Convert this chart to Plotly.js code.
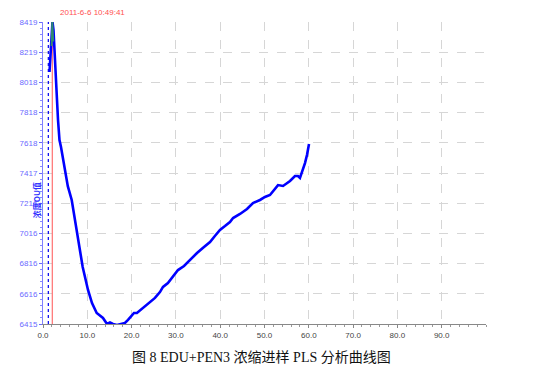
<!DOCTYPE html>
<html>
<head>
<meta charset="utf-8">
<script src="https://cdn.plot.ly/plotly-3.0.1.min.js"></script>
<style>
html,body{margin:0;padding:0;background:#fff;}
#chart{width:533px;height:377px;}
</style>
</head>
<body>
<div id="chart"></div>
<script>
// Main PLS curve (time, OU value)
const curveX = [1.47,1.69,1.92,2.14,2.37,2.71,2.93,3.16,3.39,3.72,4.06,4.74,5.6,6.48,7.67,8.96,10.16,11.06,12.12,12.87,13.54,14.45,15.12,15.8,16.7,17.6,18.5,19.19,20.09,20.54,21.2,22.57,24.15,25.28,26.4,27.09,28.2,29.35,30.47,31.83,33.18,34.76,36.34,37.7,38.8,39.95,41.08,42.2,42.9,44.47,46.05,47.4,48.98,50.1,51.24,52.14,53.05,54.18,55.08,55.76,56.88,57.56,58.01,58.69,59.14,59.59,60.05];
const curveY = [8087,8233,8386,8419,8366,8200,8067,7901,7769,7636,7590,7483,7330,7238,7019,6793,6641,6554,6488,6468,6455,6415,6425,6415,6408,6415,6422,6442,6475,6488,6488,6521,6561,6588,6627,6661,6687,6727,6773,6800,6840,6886,6926,6959,6999,7039,7065,7092,7118,7145,7178,7218,7238,7258,7271,7304,7337,7331,7351,7364,7397,7397,7384,7437,7483,7536,7610];
// Secondary (green) trace near the peak
const greenX = [1.95,2.1,2.3];
const greenY = [8260,8419,8290];
// Marker lines
const blueMarkerX = 1.2;
const redMarkerX = 2.1;
const markerLabel = "2011-6-6 10:49:41";
// Axes
const yTickVals = [6415,6615.4,6815.8,7016.2,7216.6,7417,7617.4,7817.8,8018.2,8218.6,8419];
const yTickText = ["6415","6616","6816","7016","7216","7417","7618","7818","8018","8219","8419"];
const xTickVals = [0,10,20,30,40,50,60,70,80,90];
const xTickText = ["0.0","10.0","20.0","30.0","40.0","50.0","60.0","70.0","80.0","90.0"];
const yRange = [6415,8419];
const xRange = [0,100];
const yTitle = "浓度OU值";
const caption = "图 8 EDU+PEN3 浓缩进样 PLS 分析曲线图";

const traces = [
  {x:[redMarkerX,redMarkerX], y:[yRange[0],yRange[1]+15], mode:'lines', line:{color:'#ff7070',width:1.2}, cliponaxis:false},
  {x:[blueMarkerX,blueMarkerX], y:yRange, mode:'lines', line:{color:'#0000ee',width:1.2,dash:'dot'}},
  {x:curveX, y:curveY, mode:'lines', line:{color:'#0000ff',width:2.6}},
  {x:greenX, y:greenY, mode:'lines', line:{color:'#2e8b70',width:2}}
];

const layout = {
  width:533, height:377,
  margin:{l:43,r:47,t:22,b:53},
  paper_bgcolor:'#fff', plot_bgcolor:'#fff',
  showlegend:false,
  font:{family:'Liberation Sans, Arial, sans-serif', size:8},
  xaxis:{
    range:xRange, tickvals:xTickVals, ticktext:xTickText,
    showgrid:true, gridcolor:'#d6d6d6', griddash:'dash', gridwidth:1,
    showline:true, linecolor:'#888', linewidth:1,
    ticks:'outside', ticklen:3, tickcolor:'#888',
    minor:{dtick:2, ticks:'outside', ticklen:2, tickcolor:'#999', showgrid:false},
    tickfont:{size:8, color:'#444'}, zeroline:false, fixedrange:true
  },
  yaxis:{
    range:yRange, tickvals:yTickVals, ticktext:yTickText,
    showgrid:true, gridcolor:'#d6d6d6', griddash:'dash', gridwidth:1,
    showline:true, linecolor:'#8080ff', linewidth:1,
    ticks:'outside', ticklen:3, tickcolor:'#6a6aff',
    minor:{tick0:6415, dtick:40.08, ticks:'outside', ticklen:2, tickcolor:'#8a8aff', showgrid:false},
    tickfont:{size:8, color:'#6a6aff'}, zeroline:false, fixedrange:true
  },
  annotations:[
    {text:markerLabel, xref:'x', x:redMarkerX, xshift:6, yref:'paper', y:1, yshift:3, xanchor:'left', yanchor:'bottom', showarrow:false, font:{size:8, color:'#ff5050'}},
    {text:'<b>'+yTitle+'</b>', xref:'paper', x:0, xshift:-7, yref:'paper', y:0.41, xanchor:'center', yanchor:'middle', textangle:-90, showarrow:false, font:{size:8, color:'#3030ff', family:'Noto Sans CJK SC, sans-serif'}},
    {text:caption, xref:'paper', x:0.5, xshift:-3, yref:'paper', y:0, yshift:-33, xanchor:'center', yanchor:'middle', showarrow:false, font:{size:14, color:'#111', family:'Liberation Serif, Noto Sans CJK SC, serif'}}
  ]
};

Plotly.newPlot('chart', traces, layout, {staticPlot:true, displayModeBar:false});
</script>
</body>
</html>
